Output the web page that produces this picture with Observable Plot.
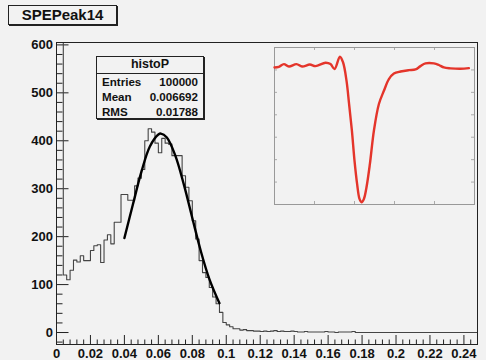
<!DOCTYPE html>
<html>
<head>
<meta charset="utf-8">
<script src="https://cdn.jsdelivr.net/npm/d3@7"></script>
<script src="https://cdn.jsdelivr.net/npm/@observablehq/plot@0.6"></script>
<style>
  body { margin: 0; background: #f2f2f2; }
  #canvas { position: relative; width: 486px; height: 360px; background: #f2f2f2;
            font-family: "Liberation Sans", Arial, sans-serif; font-weight: bold; color: #111; }
  .title { position: absolute; left: 8px; top: 5px; width: 107px; height: 18px;
           border: 1px solid #222; box-shadow: 1px 1px 0 #222; background: #f2f2f2;
           font-size: 15px; line-height: 18px; text-align: center; }
  .stats { position: absolute; left: 96px; top: 56px; width: 106px; height: 61px;
           border: 1px solid #222; box-shadow: 1px 1px 0 #222; background: #f2f2f2; font-size: 11.6px; }
  .stats .head { position: absolute; left: 0; right: 0; top: 0; height: 16px; line-height: 15px;
                 font-size: 12.5px; text-align: center; border-bottom: 1px solid #222; }
  .stats .row { position: absolute; left: 5px; right: 5px; height: 15px; line-height: 15px; }
  .stats .row span:last-child { float: right; }
</style>
</head>
<body>
<div id="canvas">
  <div class="title">SPEPeak14</div>
</div>
<script>
// Histogram "histoP": bins of width 0.002 starting at 0 (first two bins hold the pedestal)
const histLow = 0;
const binWidth = 0.002;
const histCounts = [
  4800, 1300, 120, 110, 130, 151, 147, 160, 150, 150,
  171, 181, 183, 146, 193, 204, 185, 230, 230, 288,
  288, 276, 276, 306, 322, 340, 400, 425, 418, 395,
  375, 405, 395, 393, 369, 369, 369, 327, 303, 275,
  233, 195, 150, 125, 115, 94, 74, 60, 42, 21,
  16, 12, 8, 8, 5, 6, 4, 4, 3, 3,
  2, 3, 2, 3, 4, 2, 3, 2, 2, 3,
  2, 1, 1, 2, 1, 1, 1, 1, 1, 2,
  1, 1, 0, 1, 1, 1, 1, 2, 0, 0,
  0, 0, 0, 0, 0, 0, 0, 0, 0, 0,
  0, 0, 0, 0, 0, 0, 0, 0, 0, 0,
  0, 0, 0, 0, 0, 0, 0, 0, 0, 0,
  0, 0, 0, 0
];

// Gaussian fit curve over the peak
const fitX = [0.040, 0.045, 0.050, 0.055, 0.060, 0.0615, 0.065, 0.070, 0.075, 0.080, 0.085, 0.090, 0.096];
const fitY = [197, 267, 335, 388, 413, 415, 407, 369, 309, 239, 170, 112, 61];

// Statistics box
const statName = "histoP";
const statLabels = ["Entries", "Mean", "RMS"];
const statValues = ["100000", "0.006692", "0.01788"];

// Axis ticks
const xTicks = [0, 0.02, 0.04, 0.06, 0.08, 0.1, 0.12, 0.14, 0.16, 0.18, 0.2, 0.22, 0.24];
const yTicks = [0, 100, 200, 300, 400, 500, 600];

// Pulse waveform shown in the inset (time, amplitude)
const waveT = [0, 2.2, 4.7, 7.2, 11, 13.8, 17.7, 20.5, 25.5, 28, 30, 32.7, 34.3, 36, 37.3, 38.7, 40, 41.3, 42.5, 43.5,
               44.7, 46, 47.7, 49.7, 52.2, 54.7, 57.2, 59.7, 63, 67.2, 70.5, 73, 75.5, 79.7, 82.2, 84.7, 88, 93, 97.2];
const waveV = [-8.9, -8.6, -7.4, -8.5, -7.4, -8.5, -7.6, -8.3, -6.8, -7.4, -9.6, -4.1, -6.7, -14.8, -25.2, -37.1, -50.4, -60.8, -67.5, -69,
               -67.5, -62.3, -51.9, -37.1, -25.2, -19.3, -14.1, -11.6, -10.7, -10.1, -9.8, -8.3, -7.1, -7.1, -7.8, -8.9, -9.3, -9.5, -9.2];

// ---- main frame ----
const W = 486, H = 360;
const mL = 56, mR = 9, mT = 42, mB = 16;
const xDom = [0, 0.248], yDom = [-25, 605];
const pxX = (xDom[1] - xDom[0]) / (W - mL - mR); // data units per pixel
const pxY = (yDom[1] - yDom[0]) / (H - mT - mB);

const histPts = histCounts.map((c, i) => ({x: histLow + i * binWidth, y: c}));
histPts.push({x: histLow + histCounts.length * binWidth, y: histCounts[histCounts.length - 1]});
const fitPts = fitX.map((x, i) => ({x, y: fitY[i]}));

const xMinor = d3.range(0, 0.2481, 0.004).filter(v => !xTicks.some(t => Math.abs(t - v) < 1e-9));
const yMinor = d3.range(-20, 601, 20).filter(v => v % 100 !== 0);

const main = Plot.plot({
  width: W, height: H,
  marginLeft: mL, marginRight: mR, marginTop: mT, marginBottom: mB,
  x: {domain: xDom, label: null},
  y: {domain: yDom, label: null},
  style: {background: "transparent", fontFamily: "'Liberation Sans', Arial, sans-serif",
          fontWeight: "bold", fontSize: "13px", color: "#111"},
  marks: [
    Plot.ruleX(xMinor, {x: d => d, y1: yDom[0], y2: yDom[0] + 4.5 * pxY, stroke: "#222"}),
    Plot.ruleX(xTicks, {x: d => d, y1: yDom[0], y2: yDom[0] + 9 * pxY, stroke: "#222"}),
    Plot.ruleY(yMinor, {y: d => d, x1: xDom[0], x2: xDom[0] + 6.5 * pxX, stroke: "#222"}),
    Plot.ruleY(yTicks, {y: d => d, x1: xDom[0], x2: xDom[0] + 12.5 * pxX, stroke: "#222"}),
    Plot.axisX({ticks: xTicks, tickSize: 0, tickPadding: 4, label: null, tickFormat: d => String(d)}),
    Plot.axisY({ticks: yTicks, tickSize: 0, tickPadding: 3.5, label: null, tickFormat: d => String(d)}),
    Plot.line(histPts, {x: "x", y: "y", curve: "step-after", stroke: "#444", strokeWidth: 1.1, clip: true}),
    Plot.line(fitPts, {x: "x", y: "y", curve: "catmull-rom", stroke: "#000", strokeWidth: 2.4}),
    Plot.frame({stroke: "#222"})
  ]
});
main.style.position = "absolute";
main.style.left = "0px";
main.style.top = "0px";
const canvas = document.getElementById("canvas");
canvas.insertBefore(main, canvas.firstChild);

// ---- statistics box ----
const stats = document.createElement("div");
stats.className = "stats";
const head = document.createElement("div");
head.className = "head";
head.textContent = statName;
stats.appendChild(head);
statLabels.forEach((lab, i) => {
  const row = document.createElement("div");
  row.className = "row";
  row.style.top = (16.5 + 15 * i) + "px";
  const a = document.createElement("span"); a.textContent = lab;
  const b = document.createElement("span"); b.textContent = statValues[i];
  row.appendChild(a); row.appendChild(b);
  stats.appendChild(row);
});
canvas.appendChild(stats);

// ---- inset waveform ----
const iW = 202, iH = 159, iM = 1;
const tDom = [0, 100], vDom = [-70, 0];
const ipx = (tDom[1] - tDom[0]) / (iW - 2 * iM);
const ipy = (vDom[1] - vDom[0]) / (iH - 2 * iM);
const wavePts = waveT.map((t, i) => ({t, v: waveV[i]}));
const tTicks = [20, 40, 60, 80];
const vTicks = [-10, -20, -30, -40, -50, -60];
const inset = Plot.plot({
  width: iW, height: iH, margin: iM,
  x: {domain: tDom, axis: null},
  y: {domain: vDom, axis: null},
  style: {background: "transparent"},
  marks: [
    Plot.ruleX(tTicks, {x: d => d, y1: vDom[1], y2: vDom[1] - 3 * ipy, stroke: "#aaa"}),
    Plot.ruleX(tTicks, {x: d => d, y1: vDom[0], y2: vDom[0] + 3 * ipy, stroke: "#aaa"}),
    Plot.ruleY(vTicks, {y: d => d, x1: tDom[1], x2: tDom[1] - 3 * ipx, stroke: "#aaa"}),
    Plot.ruleY(vTicks, {y: d => d, x1: tDom[0], x2: tDom[0] + 3 * ipx, stroke: "#aaa"}),
    Plot.frame({stroke: "#999"}),
    Plot.line(wavePts, {x: "t", y: "v", curve: "catmull-rom", stroke: "#e4352b", strokeWidth: 2.4})
  ]
});
inset.style.position = "absolute";
inset.style.left = "273px";
inset.style.top = "46px";
canvas.appendChild(inset);
</script>
</body>
</html>
